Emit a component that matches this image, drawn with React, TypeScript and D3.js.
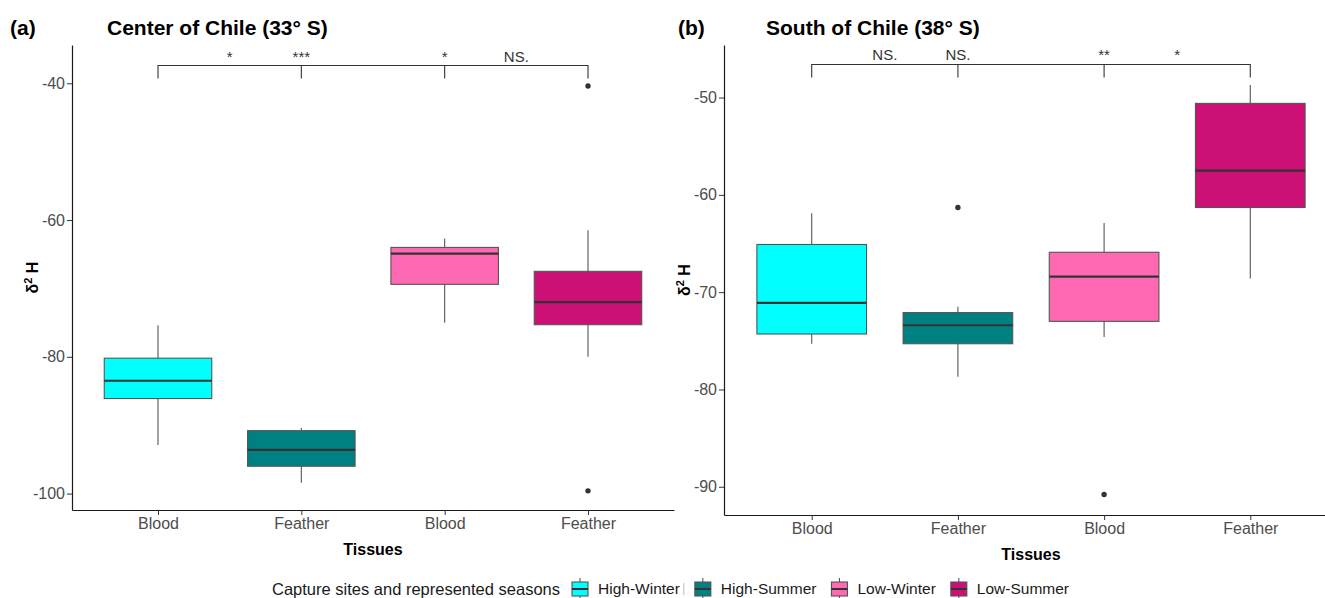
import React, { useEffect, useRef } from 'react';
import * as d3 from 'd3';

// categories
const tissues = ['Blood', 'Feather', 'Blood', 'Feather'];
const seasons = ['High-Winter', 'High-Summer', 'Low-Winter', 'Low-Summer'];
const seasonColors = ['#00FFFF', '#008080', '#FF69B4', '#CD1076'];

// (a) Center of Chile, 33° S
const centerLower = [-92.9, -98.4, -75.0, -80.0];
const centerQ1 = [-86.1, -96.0, -69.4, -75.3];
const centerMedian = [-83.5, -93.6, -64.9, -72.0];
const centerQ3 = [-80.2, -90.8, -64.0, -67.5];
const centerUpper = [-75.4, -90.4, -62.7, -61.5];
const centerOutliers = [[], [], [], [-40.4, -99.6]];
const centerTicks = [-40, -60, -80, -100];
const centerSig = ['*', '***', '*', 'NS.'];
const centerBracket = -37.4;

// (b) South of Chile, 38° S
const southLower = [-75.3, -78.7, -74.6, -68.6];
const southQ1 = [-74.3, -75.3, -73.0, -61.3];
const southMedian = [-71.1, -73.4, -68.4, -57.5];
const southQ3 = [-65.1, -72.1, -65.9, -50.6];
const southUpper = [-61.9, -71.5, -62.9, -48.7];
const southOutliers = [[], [-61.3], [-90.8], []];
const southTicks = [-50, -60, -70, -80, -90];
const southSig = ['NS.', 'NS.', '**', '*'];
const southBracket = -46.6;

// where the significance labels sit (category units)
const sigPositions = [1.5, 2, 3, 3.5];

const FONT = '"Liberation Sans", Arial, sans-serif';

function drawPanel(svg, p) {
    const g = svg.append('g');
    const x = d3.scaleLinear().domain([0.4, 4.6]).range([p.left, p.right]);
    const y = d3.scaleLinear().domain(p.yDomain).range([p.bottom, p.top]);

    // axes
    const xAxis = d3.axisBottom(x)
        .tickValues([1, 2, 3, 4])
        .tickFormat(i => tissues[i - 1])
        .tickSize(5)
        .tickSizeOuter(0)
        .tickPadding(3);
    const gx = g.append('g')
        .attr('transform', `translate(0,${p.bottom})`)
        .call(xAxis);

    const yAxis = d3.axisLeft(y)
        .tickValues(p.ticks)
        .tickFormat(d => String(d)) // plain hyphen, like R
        .tickSize(5)
        .tickSizeOuter(0)
        .tickPadding(2);
    const gy = g.append('g')
        .attr('transform', `translate(${p.left},0)`)
        .call(yAxis);

    [gx, gy].forEach(a => {
        a.attr('font-family', FONT).attr('font-size', 16);
        a.select('.domain').attr('stroke', '#1a1a1a').attr('stroke-width', 1.2);
        a.selectAll('.tick line').attr('stroke', '#333');
        a.selectAll('.tick text').attr('fill', '#4D4D4D');
    });

    // boxes
    const half = (x(1.375) - x(1));
    tissues.forEach((t, i) => {
        const cx = x(i + 1);
        g.append('line')
            .attr('x1', cx).attr('x2', cx)
            .attr('y1', y(p.upper[i])).attr('y2', y(p.q3[i]))
            .attr('stroke', '#555').attr('stroke-width', 1.1);
        g.append('line')
            .attr('x1', cx).attr('x2', cx)
            .attr('y1', y(p.q1[i])).attr('y2', y(p.lower[i]))
            .attr('stroke', '#555').attr('stroke-width', 1.1);
        g.append('rect')
            .attr('x', cx - half)
            .attr('y', y(p.q3[i]))
            .attr('width', half * 2)
            .attr('height', y(p.q1[i]) - y(p.q3[i]))
            .attr('fill', seasonColors[i])
            .attr('stroke', '#555')
            .attr('stroke-width', 1.1);
        g.append('line')
            .attr('x1', cx - half).attr('x2', cx + half)
            .attr('y1', y(p.median[i])).attr('y2', y(p.median[i]))
            .attr('stroke', '#333').attr('stroke-width', 2.2);
        p.outliers[i].forEach(v => {
            g.append('circle')
                .attr('cx', cx).attr('cy', y(v)).attr('r', 2.7)
                .attr('fill', '#333');
        });
    });

    // comparison bracket
    const by = y(p.bracket);
    g.append('path')
        .attr('d', `M${x(1)},${by + 13}V${by}H${x(4)}V${by + 13}`)
        .attr('fill', 'none').attr('stroke', '#333').attr('stroke-width', 1.1);
    [2, 3].forEach(k => {
        g.append('line')
            .attr('x1', x(k)).attr('x2', x(k))
            .attr('y1', by).attr('y2', by + 13)
            .attr('stroke', '#333').attr('stroke-width', 1.1);
    });
    p.sig.forEach((s, i) => {
        g.append('text')
            .attr('x', x(sigPositions[i]))
            .attr('y', by - 4)
            .attr('text-anchor', 'middle')
            .attr('font-family', FONT)
            .attr('font-size', 15)
            .attr('fill', '#333')
            .text(s);
    });

    // titles
    g.append('text')
        .attr('x', p.tagX).attr('y', 35)
        .attr('font-family', FONT).attr('font-size', 21).attr('font-weight', 'bold')
        .text(p.tag);
    g.append('text')
        .attr('x', p.titleX).attr('y', 35)
        .attr('font-family', FONT).attr('font-size', 21).attr('font-weight', 'bold')
        .text(p.title);

    g.append('text')
        .attr('x', (p.left + p.right) / 2)
        .attr('y', p.bottom + 45)
        .attr('text-anchor', 'middle')
        .attr('font-family', FONT).attr('font-size', 16).attr('font-weight', 'bold')
        .text('Tissues');

    const yl = g.append('text')
        .attr('transform', `translate(${p.yLabelX},${(p.top + p.bottom) / 2}) rotate(-90)`)
        .attr('text-anchor', 'middle')
        .attr('font-family', FONT).attr('font-size', 16).attr('font-weight', 'bold');
    yl.append('tspan').text('δ');
    yl.append('tspan').attr('dy', -6).attr('font-size', 11).text('2');
    yl.append('tspan').attr('dy', 6).text(' H');
}

export default function App() {
    const ref = useRef(null);

    useEffect(() => {
        const svg = d3.select(ref.current);
        svg.selectAll('*').remove();

        drawPanel(svg, {
            left: 72, right: 674, top: 45, bottom: 510,
            yDomain: [-102.4, -34.4],
            ticks: centerTicks,
            lower: centerLower, q1: centerQ1, median: centerMedian, q3: centerQ3, upper: centerUpper,
            outliers: centerOutliers,
            sig: centerSig, bracket: centerBracket,
            tag: '(a)', tagX: 10, title: 'Center of Chile (33° S)', titleX: 107,
            yLabelX: 38,
        });

        drawPanel(svg, {
            left: 724, right: 1338, top: 45, bottom: 515,
            yDomain: [-92.9, -44.6],
            ticks: southTicks,
            lower: southLower, q1: southQ1, median: southMedian, q3: southQ3, upper: southUpper,
            outliers: southOutliers,
            sig: southSig, bracket: southBracket,
            tag: '(b)', tagX: 678, title: 'South of Chile (38° S)', titleX: 766,
            yLabelX: 690,
        });

        // legend
        const lg = svg.append('g').attr('font-family', FONT);
        const ly = 589;
        const title = lg.append('text')
            .attr('x', 272).attr('y', ly).attr('dy', '0.35em')
            .attr('font-size', 16.5)
            .attr('fill', '#1a1a1a')
            .text('Capture sites and represented seasons');
        let cursor = 272 + title.node().getComputedTextLength() + 10;
        seasons.forEach((s, i) => {
            const kx = cursor;
            lg.append('line')
                .attr('x1', kx + 10).attr('x2', kx + 10)
                .attr('y1', ly - 11).attr('y2', ly + 11)
                .attr('stroke', '#555').attr('stroke-width', 1.1);
            lg.append('rect')
                .attr('x', kx + 2).attr('y', ly - 7)
                .attr('width', 16).attr('height', 14)
                .attr('fill', seasonColors[i]).attr('stroke', '#555').attr('stroke-width', 1.1);
            lg.append('line')
                .attr('x1', kx + 2).attr('x2', kx + 18)
                .attr('y1', ly).attr('y2', ly)
                .attr('stroke', '#333').attr('stroke-width', 2);
            const t = lg.append('text')
                .attr('x', kx + 28).attr('y', ly).attr('dy', '0.35em')
                .attr('font-size', 15.5)
                .attr('fill', '#1a1a1a')
                .text(s);
            cursor = kx + 28 + t.node().getComputedTextLength() + 13;
            if (i === 0) {
                // faint separator left over in the original figure
                lg.append('line')
                    .attr('x1', cursor - 9).attr('x2', cursor - 9)
                    .attr('y1', ly - 6).attr('y2', ly + 6)
                    .attr('stroke', '#bbb');
            }
        });
    }, []);

    return (
        <svg
            ref={ref}
            width={1325}
            height={598}
            style={{ position: 'absolute', left: 0, top: 0, background: '#fff' }}
        />
    );
}
